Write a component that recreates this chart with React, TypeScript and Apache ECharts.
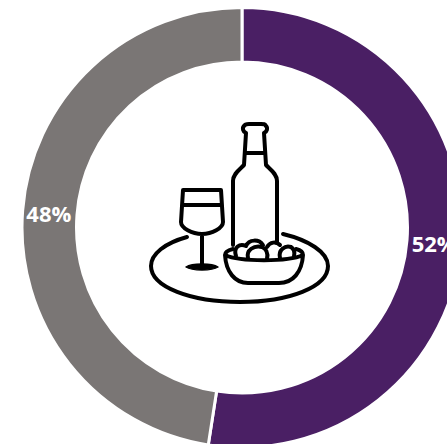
import React, { useEffect, useRef } from "react";
import * as echarts from "echarts";

const categories = ["Purple share", "Grey share"];
const shareValues = [52.45, 47.55];
const sliceColors = ["#4a1f64", "#7a7675"];
const labelOffsets = [[-3, 0], [2, 1]];

const iconPaths: Record<string, string> = {
  iconBottle:
    "M233 245 L233 181 C233 174 239 170 244 165 L246 133 C243 132 242 128 244 126 C245 124 247 124 249 124 L261 124 C264 124 265 124 266 126 C268 128 267 132 264 133 L266 165 C271 170 277 174 277 181 L277 243 M245 153 L265 153",
  iconGlass:
    "M183 190 L221 190 L223 222 C223 228 212 234 202 234 C192 234 181 228 181 222 Z M184 205 L221 205 M202 234 L202 265",
  iconGlassBase: "M186 267 C192 263 212 263 218 267 C212 271 192 271 186 267 Z",
  iconTray:
    "M187 237 C165 243 151 254 151 266 C151 287 191 302 240 302 C289 302 328 287 328 266 C328 252 308 240 283 234",
  iconBowl:
    "M225 255 C225 252 229 250 233 249 M296 249 C300 250 303 252 303 255 M225 255 C240 262 288 262 303 255 C302 272 293 283 279 283 L248 283 C235 283 226 272 225 255 Z",
  iconNuts:
    "M236 256 C233 247 240 243 246 246 M246 246 C249 239 259 239 263 245 M248 258 C246 250 254 245 262 247 C267 249 268 254 267 259 M267 247 C270 242 276 241 280 245 M280 258 C278 250 285 245 291 247 C294 249 295 252 294 256",
};

Object.keys(iconPaths).forEach((name) => {
  echarts.graphic.registerShape(name, echarts.graphic.extendPath(iconPaths[name], {}));
});

export default function App() {
  const ref = useRef<HTMLDivElement>(null);
  useEffect(() => {
    document.body.style.margin = "0";
    const chart = echarts.init(ref.current!, undefined, { renderer: "svg" });
    chart.setOption({
      animation: false,
      backgroundColor: "#ffffff",
      series: [
        {
          type: "pie",
          center: [242, 227.5],
          radius: [165.5, 220],
          startAngle: 90,
          clockwise: true,
          silent: true,
          data: categories.map((name, i) => ({
            name,
            value: shareValues[i],
            itemStyle: { color: sliceColors[i] },
            label: { offset: labelOffsets[i] },
          })),
          itemStyle: { borderColor: "#ffffff", borderWidth: 3 },
          label: {
            show: true,
            position: "inside",
            formatter: (p: { value: number }) => `${Math.round(p.value)}%`,
            color: "#ffffff",
            fontFamily: "Open Sans",
            fontWeight: "bold",
            fontSize: 22,
          },
          labelLine: { show: false },
        },
      ],
      graphic: Object.keys(iconPaths).map((name) => ({
        type: name,
        x: 0,
        y: 0,
        style: {
          fill: name === "iconGlassBase" ? "#000000" : "none",
          stroke: "#000000",
          lineWidth: name === "iconGlassBase" ? 1.5 : 4,
          lineCap: "round",
          lineJoin: "round",
        },
      })),
    });
    return () => chart.dispose();
  }, []);
  return <div ref={ref} style={{ width: 447, height: 444, overflow: "hidden" }} />;
}
